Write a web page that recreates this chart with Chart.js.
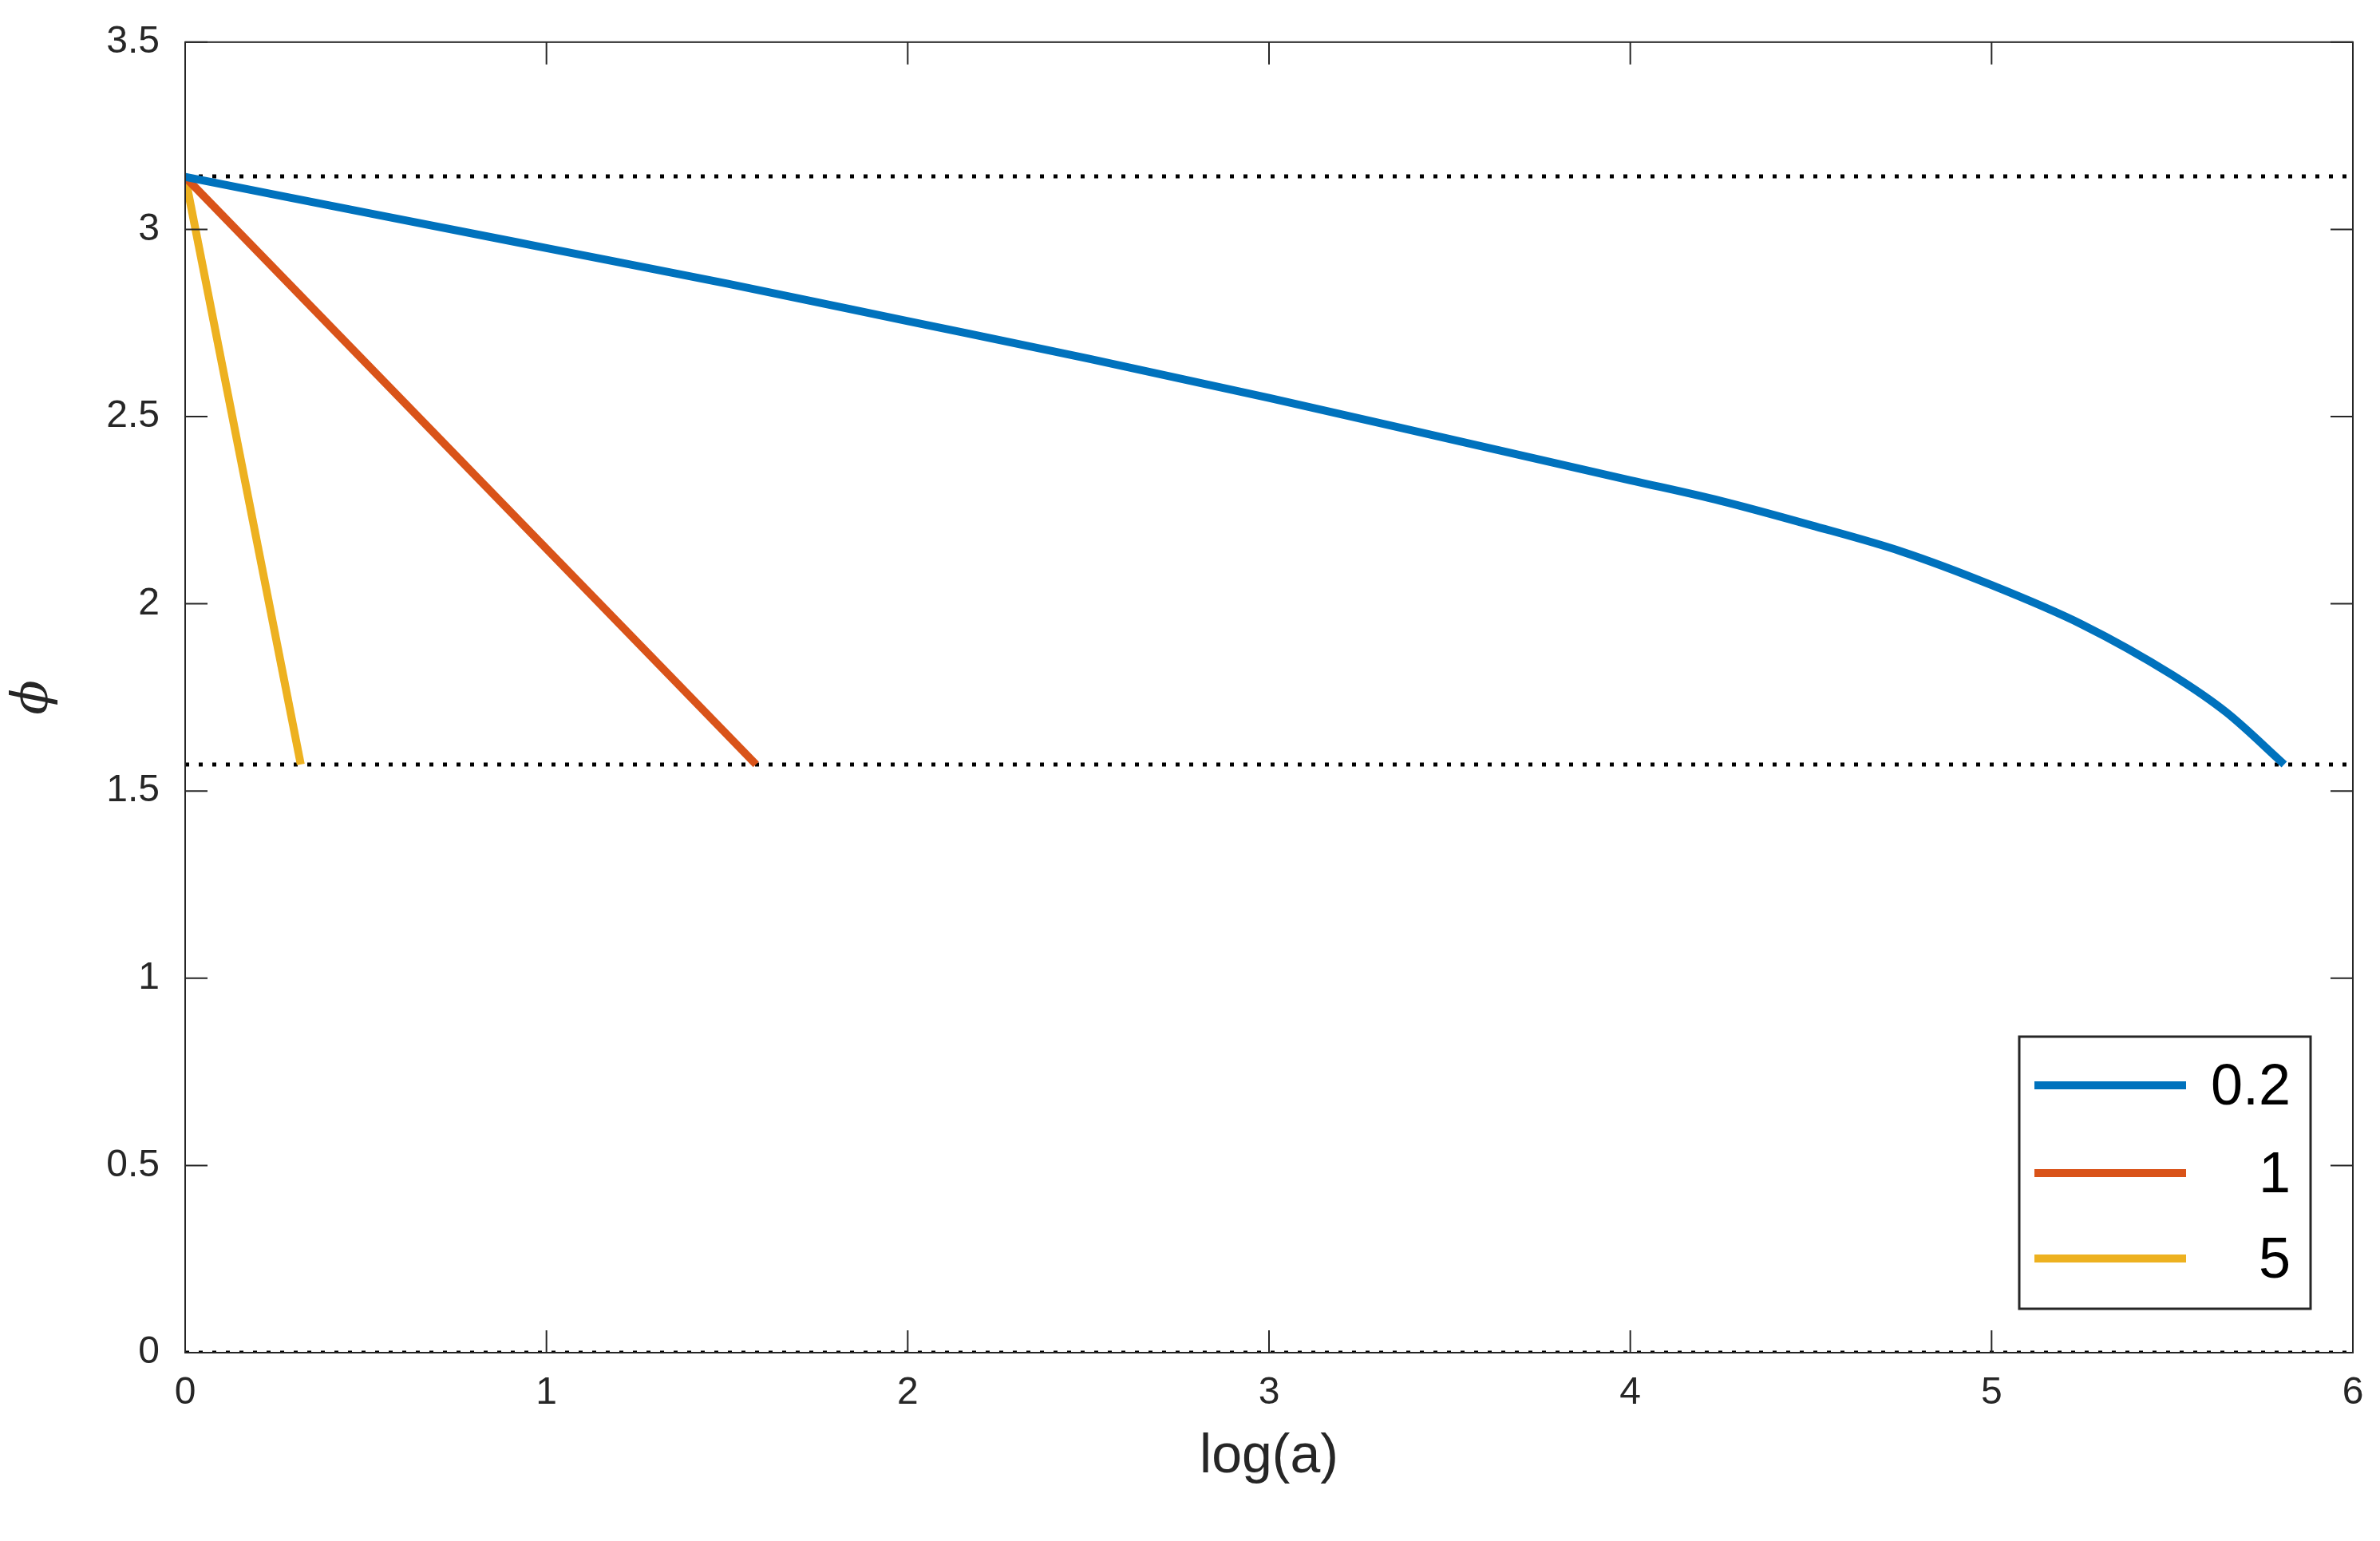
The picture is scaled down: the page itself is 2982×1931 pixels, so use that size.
<!DOCTYPE html>
<html>
<head>
<script src="https://cdn.jsdelivr.net/npm/chart.js@4/dist/chart.umd.min.js"></script>
<style>body{margin:0;background:#fff}</style>
</head>
<body>
<canvas id="c" width="2982" height="1931"></canvas>
<script>
// values
const blueX = [0, 0.5, 1, 1.5, 2, 2.5, 3, 3.5, 4, 4.25, 4.5, 4.75, 5, 5.25, 5.5, 5.65, 5.81]
const blueY = [3.14, 3.045, 2.95, 2.855, 2.755, 2.655, 2.55, 2.44, 2.33, 2.275, 2.21, 2.14, 2.05, 1.945, 1.81, 1.71, 1.571]
const redX = [0, 1.58]
const redY = [3.14, 1.571]
const yellowX = [0, 0.32]
const yellowY = [3.14, 1.571]
const refLines = [Math.PI, Math.PI / 2, 0]
const labels = ['0.2', '1', '5']
const colors = ['#0072BD', '#D95319', '#EDB120']

const pts = (xs, ys) => xs.map((x, i) => ({ x: x, y: ys[i] }))

const datasets = [
  { data: pts(blueX, blueY), borderColor: colors[0], cubicInterpolationMode: 'monotone' },
  { data: pts(redX, redY), borderColor: colors[1] },
  { data: pts(yellowX, yellowY), borderColor: colors[2] }
].map(d => Object.assign(d, { borderWidth: 10, pointRadius: 0, fill: false }))

refLines.forEach(v => {
  datasets.push({
    data: [{ x: 0, y: v }, { x: 6, y: v }],
    borderColor: '#000', borderWidth: 5, borderDash: [5, 12],
    pointRadius: 0, fill: false
  })
})

const frame = {
  id: 'frame',
  afterDraw(chart) {
    const ctx = chart.ctx, a = chart.chartArea
    const xs = chart.scales.x, ys = chart.scales.y
    ctx.save()
    ctx.strokeStyle = '#262626'
    ctx.lineWidth = 2
    ctx.strokeRect(a.left, a.top, a.right - a.left, a.bottom - a.top)
    const t = 28
    ctx.beginPath()
    for (let v = 0; v <= 6; v++) {
      const p = xs.getPixelForValue(v)
      ctx.moveTo(p, a.bottom); ctx.lineTo(p, a.bottom - t)
      ctx.moveTo(p, a.top); ctx.lineTo(p, a.top + t)
    }
    for (let v = 0; v <= 3.5; v += 0.5) {
      const p = ys.getPixelForValue(v)
      ctx.moveTo(a.left, p); ctx.lineTo(a.left + t, p)
      ctx.moveTo(a.right, p); ctx.lineTo(a.right - t, p)
    }
    ctx.stroke()

    // legend box
    ctx.fillStyle = '#fff'
    ctx.fillRect(2530, 1299, 365, 341)
    ctx.strokeStyle = '#262626'
    ctx.lineWidth = 3
    ctx.strokeRect(2530, 1299, 365, 341)
    const rows = [1360, 1470, 1577]
    ctx.font = '72px "Liberation Sans", Arial, sans-serif'
    ctx.textAlign = 'right'
    ctx.textBaseline = 'middle'
    rows.forEach((y, i) => {
      ctx.strokeStyle = colors[i]
      ctx.lineWidth = 10
      ctx.beginPath(); ctx.moveTo(2549, y); ctx.lineTo(2739, y); ctx.stroke()
      ctx.fillStyle = '#000'
      ctx.fillText(labels[i], 2870, y + 4)
    })
    ctx.restore()
  }
}

new Chart(document.getElementById('c').getContext('2d'), {
  type: 'line',
  data: { datasets: datasets },
  options: {
    responsive: false,
    animation: false,
    devicePixelRatio: 1,
    layout: { padding: { top: 38, right: 34, left: 0, bottom: 60 } },
    plugins: { legend: { display: false }, tooltip: { enabled: false } },
    scales: {
      x: {
        type: 'linear', min: 0, max: 6,
        grid: { display: false },
        border: { display: false },
        ticks: { stepSize: 1, color: '#262626', font: { size: 48, family: 'Liberation Sans' }, padding: 14 },
        title: { display: true, text: 'log(a)', color: '#262626', font: { size: 68, family: 'Liberation Sans' } },
        afterFit: s => { s.height = 176 }
      },
      y: {
        min: 0, max: 3.5,
        grid: { display: false },
        border: { display: false },
        ticks: { stepSize: 0.5, color: '#262626', font: { size: 48, family: 'Liberation Sans' }, padding: 24,
          callback: v => String(v) },
        title: { display: true, text: 'ϕ', color: '#262626', font: { size: 64, family: 'DejaVu Serif', style: 'italic' } },
        afterFit: s => { s.width = 232 }
      }
    }
  },
  plugins: [frame]
})
</script>
</body>
</html>
